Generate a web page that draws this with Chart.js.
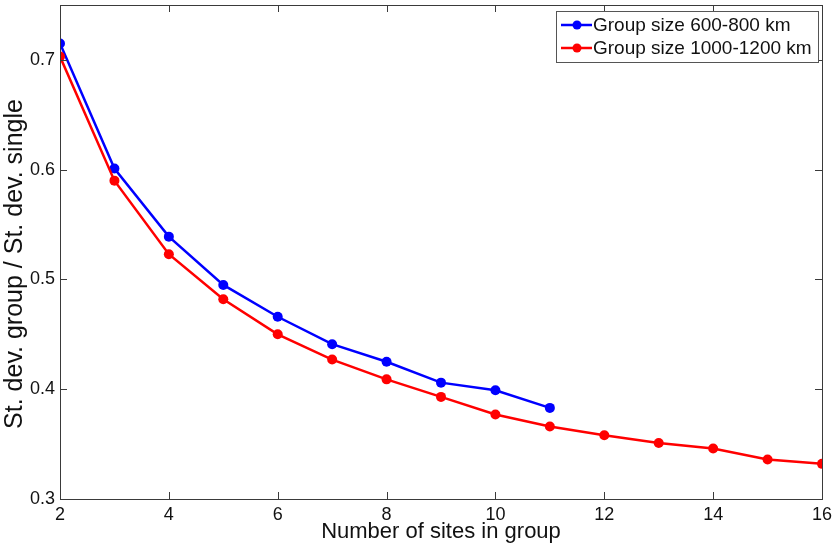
<!DOCTYPE html>
<html>
<head>
<meta charset="utf-8">
<script src="https://cdn.jsdelivr.net/npm/chart.js@4/dist/chart.umd.min.js"></script>
<style>
  html, body { margin: 0; padding: 0; background: #fff; }
  #wrap { width: 832px; height: 547px; }
</style>
</head>
<body>
<div id="wrap"><canvas id="chart"></canvas></div>
<script>
// values
const sites = [2, 3, 4, 5, 6, 7, 8, 9, 10, 11, 12, 13, 14, 15, 16];
const group600_800 = [0.715, 0.601, 0.539, 0.495, 0.466, 0.441, 0.425, 0.406, 0.399, 0.383];
const group1000_1200 = [0.703, 0.590, 0.523, 0.482, 0.450, 0.427, 0.409, 0.393, 0.377, 0.366, 0.358, 0.351, 0.346, 0.336, 0.332];
const xTicks = [2, 4, 6, 8, 10, 12, 14, 16];
const yTicks = [0.3, 0.4, 0.5, 0.6, 0.7];
const seriesLabels = ['Group size 600-800 km', 'Group size 1000-1200 km'];
const yTitle = 'St. dev. group / St. dev. single';

const FONT = '"Liberation Sans", Arial, sans-serif';
const AXIS_COLOR = '#3a3a3a';

const toPoints = (ys) => ys.map((y, i) => ({ x: sites[i], y: y }));

// box round the plot with inward ticks on all four sides
const framePlugin = {
    id: 'frame',
    afterDraw(chart) {
        const ctx = chart.ctx;
        const a = chart.chartArea;
        const xs = chart.scales.x, ys = chart.scales.y;
        const len = 7;
        ctx.save();
        ctx.strokeStyle = AXIS_COLOR;
        ctx.lineWidth = 1;
        ctx.strokeRect(a.left + 0.5, a.top + 0.5, a.right - a.left, a.bottom - a.top);
        ctx.beginPath();
        xTicks.forEach(v => {
            const px = Math.round(xs.getPixelForValue(v)) + 0.5;
            ctx.moveTo(px, a.bottom); ctx.lineTo(px, a.bottom - len);
            ctx.moveTo(px, a.top); ctx.lineTo(px, a.top + len);
        });
        yTicks.forEach(v => {
            const py = Math.round(ys.getPixelForValue(v)) + 0.5;
            ctx.moveTo(a.left, py); ctx.lineTo(a.left + len, py);
            ctx.moveTo(a.right, py); ctx.lineTo(a.right - len, py);
        });
        ctx.stroke();

        // y axis title, sits a little below the middle as in the original
        ctx.translate(22, (a.top + a.bottom) / 2 + 12);
        ctx.rotate(-Math.PI / 2);
        ctx.font = '25px ' + FONT;
        ctx.fillStyle = '#111';
        ctx.textAlign = 'center';
        ctx.textBaseline = 'alphabetic';
        ctx.fillText(yTitle, 0, 0);
        ctx.restore();
    }
};

// matlab style legend: line with marker, in a box at top right
const legendPlugin = {
    id: 'boxLegend',
    afterDraw(chart) {
        const ctx = chart.ctx;
        const a = chart.chartArea;
        const w = 262, h = 51;
        const x0 = a.right - 4 - w, y0 = a.top + 6;
        ctx.save();
        ctx.fillStyle = '#fff';
        ctx.fillRect(x0, y0, w, h);
        ctx.strokeStyle = '#555';
        ctx.lineWidth = 1;
        ctx.strokeRect(x0 + 0.5, y0 + 0.5, w, h);
        ctx.font = '19px ' + FONT;
        ctx.textBaseline = 'middle';
        seriesLabels.forEach((label, i) => {
            const ds = chart.data.datasets[i];
            const cy = y0 + 14 + i * 23;
            ctx.strokeStyle = ds.borderColor;
            ctx.lineWidth = 2.5;
            ctx.beginPath();
            ctx.moveTo(x0 + 5, cy); ctx.lineTo(x0 + 36, cy);
            ctx.stroke();
            ctx.fillStyle = ds.borderColor;
            ctx.beginPath();
            ctx.arc(x0 + 21, cy, 4.5, 0, Math.PI * 2);
            ctx.fill();
            ctx.fillStyle = '#111';
            ctx.fillText(label, x0 + 37, cy + 1);
        });
        ctx.restore();
    }
};

new Chart(document.getElementById('chart'), {
    type: 'line',
    data: {
        datasets: [{
            label: seriesLabels[0],
            data: toPoints(group600_800),
            borderColor: '#0000ff',
            backgroundColor: '#0000ff',
            borderWidth: 2.5,
            pointRadius: 5,
            pointBorderWidth: 0,
            order: 1
        }, {
            label: seriesLabels[1],
            data: toPoints(group1000_1200),
            borderColor: '#ff0000',
            backgroundColor: '#ff0000',
            borderWidth: 2.5,
            pointRadius: 5,
            pointBorderWidth: 0,
            order: 0
        }]
    },
    options: {
        responsive: true,
        maintainAspectRatio: false,
        animation: false,
        layout: { padding: { top: 5, right: 10, left: 0, bottom: 0 } },
        plugins: {
            legend: { display: false },
            tooltip: { enabled: false }
        },
        scales: {
            x: {
                type: 'linear',
                min: 2,
                max: 16,
                grid: { display: false, drawTicks: false },
                border: { display: false },
                afterBuildTicks: (scale) => { scale.ticks = xTicks.map(v => ({ value: v })); },
                afterFit: (scale) => {
                    scale.height = 48;
                    scale.paddingLeft = 0;
                    scale.paddingRight = 0;
                },
                ticks: {
                    padding: 5,
                    color: '#111',
                    maxRotation: 0,
                    font: { family: FONT, size: 18 }
                },
                title: {
                    display: true,
                    text: 'Number of sites in group',
                    color: '#111',
                    font: { family: FONT, size: 22 },
                    padding: { top: 0, bottom: 2 }
                }
            },
            y: {
                min: 0.3,
                max: 0.75,
                grid: { display: false, drawTicks: false },
                border: { display: false },
                afterBuildTicks: (scale) => { scale.ticks = yTicks.map(v => ({ value: v })); },
                afterFit: (scale) => {
                    scale.width = 60;
                    scale.paddingTop = 0;
                    scale.paddingBottom = 0;
                },
                ticks: {
                    padding: 5,
                    color: '#111',
                    font: { family: FONT, size: 18 },
                    callback: (v) => v.toFixed(1)
                }
            }
        }
    },
    plugins: [framePlugin, legendPlugin]
});
</script>
</body>
</html>
